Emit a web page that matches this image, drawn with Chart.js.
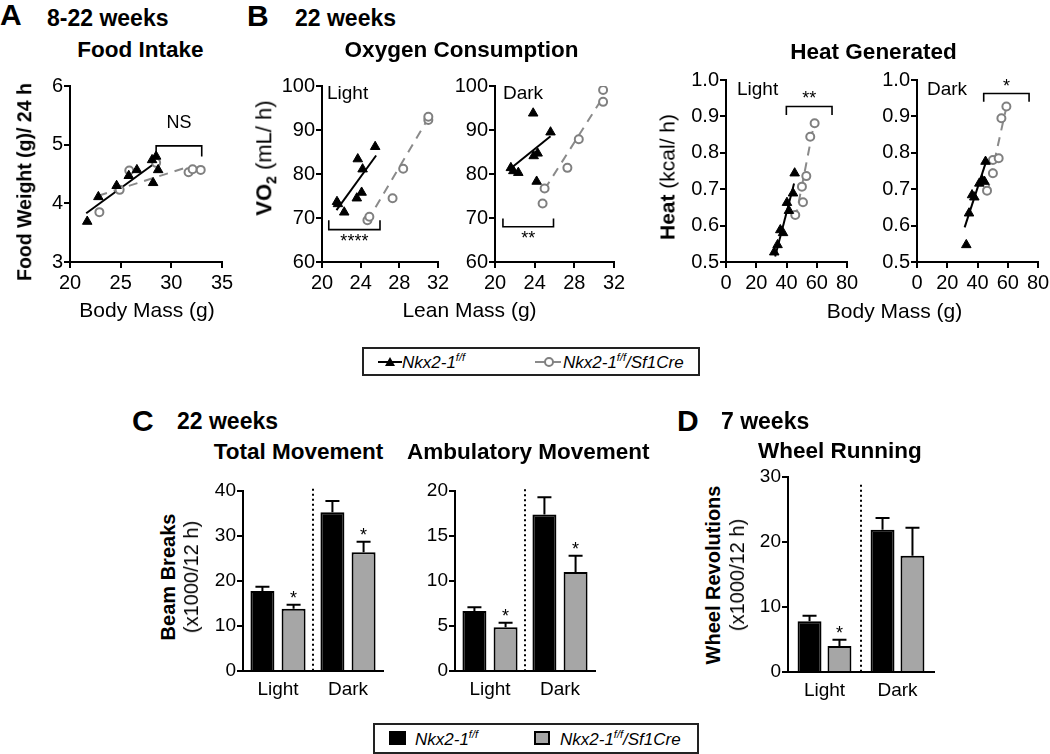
<!DOCTYPE html>
<html>
<head>
<meta charset="utf-8">
<script src="https://cdn.jsdelivr.net/npm/chart.js@4.4.1/dist/chart.umd.min.js"></script>
<style>
  html, body { margin: 0; padding: 0; background: #fff; }
  body { width: 1050px; height: 754px; position: relative; overflow: hidden; font-family: "Liberation Sans", Arial, sans-serif; color: #000; }
  canvas { position: absolute; }
  .txt { position: absolute; white-space: nowrap; line-height: 1; }
  .vtxt { position: absolute; white-space: nowrap; line-height: 1; transform: translate(-50%, -50%) rotate(-90deg); }
  .legend { position: absolute; border: 2px solid #222; box-sizing: border-box; }
  .legend .item { position: absolute; font-style: italic; font-size: 17px; line-height: 1; white-space: nowrap; }
  .legend sup { font-size: 11px; vertical-align: 0; position: relative; top: -7px; }
  .swatch { position: absolute; box-sizing: border-box; border: 2px solid #000; }
</style>
</head>
<body>
<canvas id="foodChart"></canvas>
<canvas id="oxLightChart"></canvas>
<canvas id="oxDarkChart"></canvas>
<canvas id="heatLightChart"></canvas>
<canvas id="heatDarkChart"></canvas>
<canvas id="totalChart"></canvas>
<canvas id="ambChart"></canvas>
<canvas id="wheelChart"></canvas>

<div class="legend" style="left:362px; top:347px; width:338px; height:29px;">
  <svg style="position:absolute; left:14px; top:6px;" width="26" height="14">
    <line x1="0" y1="7" x2="24" y2="7" stroke="#000" stroke-width="2"/>
    <polygon points="12,2 17,11 7,11" fill="#000"/>
  </svg>
  <div class="item" style="left:38px; top:5px;">Nkx2-1<sup>f/f</sup></div>
  <svg style="position:absolute; left:171px; top:6px;" width="28" height="14">
    <line x1="0" y1="7" x2="26" y2="7" stroke="#8a8a8a" stroke-width="2"/>
    <circle cx="14" cy="7" r="4" fill="#fff" stroke="#808080" stroke-width="2"/>
  </svg>
  <div class="item" style="left:199px; top:5px;">Nkx2-1<sup>f/f</sup>/Sf1Cre</div>
</div>

<div class="legend" style="left:373px; top:723px; width:326px; height:31px;">
  <div class="swatch" style="left:14px; top:6px; width:17px; height:14px; background:#000;"></div>
  <div class="item" style="left:40px; top:6px;">Nkx2-1<sup>f/f</sup></div>
  <div class="swatch" style="left:159px; top:6px; width:16px; height:14px; background:#a6a6a6;"></div>
  <div class="item" style="left:185px; top:6px;">Nkx2-1<sup>f/f</sup>/Sf1Cre</div>
</div>

<script>
// ---- Data ----

// A: food intake (g/24 h) vs body mass (g)
const foodWtMass = [21.7, 22.8, 24.6, 25.8, 26.6, 28.1, 28.5, 28.7, 28.2];
const foodWtIntake = [3.69, 4.11, 4.30, 4.47, 4.57, 4.74, 4.80, 4.57, 4.35];
const foodKoMass = [22.9, 24.9, 25.85, 28.5, 31.7, 32.1, 32.9];
const foodKoIntake = [3.85, 4.23, 4.56, 4.69, 4.53, 4.58, 4.57];
const foodWtFitX = [21.6, 28.5];
const foodWtFitY = [3.83, 4.70];
const foodKoFitX = [22.8, 31.8];
const foodKoFitY = [4.13, 4.63];
const foodBracket = [28.5, 33, 4.98, 4.80]; // x from, x to, bar y, tip y
const foodSig = 'NS';
const foodSigY = 5.28;

// B: VO2 (mL/h) vs lean mass (g), light phase
const oxLightWtMass = [21.55, 21.65, 22.3, 23.7, 23.6, 24.1, 24.2, 25.5];
const oxLightWtVo2 = [73.7, 73.2, 71.3, 83.4, 74.5, 75.8, 81.1, 86.2];
const oxLightKoMass = [24.7, 24.9, 27.3, 28.4, 31.0, 31.0];
const oxLightKoVo2 = [69.5, 70.3, 74.5, 81.2, 92.3, 93.0];
const oxLightWtFitX = [21.5, 25.6];
const oxLightWtFitY = [71.8, 84.2];
const oxLightKoFitX = [24.7, 31.0];
const oxLightKoFitY = [69.3, 92.7];
const oxLightBracket = [20.7, 26.0, 67.35, 69.5];
const oxLightSig = '****';
const oxLightSigY = 63.3;

// B: VO2 (mL/h) vs lean mass (g), dark phase
const oxDarkWtMass = [23.85, 25.6, 23.9, 24.3, 21.6, 21.85, 22.35, 24.2];
const oxDarkWtVo2 = [93.8, 89.5, 84.1, 84.7, 81.4, 80.7, 80.3, 78.3];
const oxDarkKoMass = [24.8, 25.0, 27.3, 28.45, 30.9, 30.9];
const oxDarkKoVo2 = [73.3, 76.7, 81.4, 87.9, 96.4, 99.1];
const oxDarkWtFitX = [21.6, 25.6];
const oxDarkWtFitY = [81.3, 88.6];
const oxDarkKoFitX = [25.0, 30.9];
const oxDarkKoFitY = [76.5, 97.5];
const oxDarkBracket = [20.8, 25.9, 68.0, 69.9];
const oxDarkSig = '**';
const oxDarkSigY = 64.0;

// B: heat (kcal/h) vs body mass (g), light phase
const heatLightWtMass = [31.9, 34.1, 35.9, 37.7, 40.3, 41.6, 44.3, 45.4];
const heatLightWtHeat = [0.527, 0.547, 0.588, 0.580, 0.663, 0.641, 0.689, 0.744];
const heatLightKoMass = [45.8, 50.9, 50.2, 53.1, 55.7, 58.6];
const heatLightKoHeat = [0.629, 0.664, 0.707, 0.736, 0.844, 0.881];
const heatLightWtFitX = [32.5, 45.0];
const heatLightWtFitY = [0.515, 0.716];
const heatLightKoFitX = [46.0, 58.0];
const heatLightKoFitY = [0.62, 0.875];
const heatLightBracket = [39.9, 70.1, 0.927, 0.904];
const heatLightSig = '**';
const heatLightSigY = 0.933;

// B: heat (kcal/h) vs body mass (g), dark phase
const heatDarkWtMass = [32.6, 34.4, 36.4, 37.9, 41.2, 43.0, 44.6, 45.3];
const heatDarkWtHeat = [0.547, 0.634, 0.684, 0.678, 0.716, 0.725, 0.721, 0.776];
const heatDarkKoMass = [46.3, 50.2, 50.2, 54.0, 55.8, 59.1];
const heatDarkKoHeat = [0.696, 0.744, 0.780, 0.785, 0.895, 0.927];
const heatDarkWtFitX = [31.5, 46.0];
const heatDarkWtFitY = [0.595, 0.78];
const heatDarkKoFitX = [46.5, 58.8];
const heatDarkKoFitY = [0.69, 0.92];
const heatDarkBracket = [44.1, 74.1, 0.963, 0.94];
const heatDarkSig = '*';
const heatDarkSigY = 0.967;

// C / D: bar charts (x1000 per 12 h), mean and SEM
const periods = ['Light', 'Dark'];
const totalWt = [17.8, 35.3];
const totalWtErr = [0.9, 2.5];
const totalKo = [13.85, 26.4];
const totalKoErr = [0.85, 2.3];
const totalKoSig = ['*', '*'];

const ambWt = [6.67, 17.4];
const ambWtErr = [0.4, 1.9];
const ambKo = [4.85, 11.0];
const ambKoErr = [0.52, 1.8];
const ambKoSig = ['*', '*'];

const wheelWt = [7.8, 21.9];
const wheelWtErr = [0.86, 1.8];
const wheelKo = [4.0, 17.9];
const wheelKoErr = [0.97, 4.3];
const wheelKoSig = ['*', ''];

// ---- Layout ----
const FONT = '"Liberation Sans", Arial, sans-serif';
const PAD_TOP = 20, PAD_RIGHT = 26, Y_W = 60, X_H = 46;

// plot areas in page pixels
const areas = {
    food: { left: 70, right: 222, top: 86, bottom: 262 },
    oxLight: { left: 322, right: 438, top: 86, bottom: 262 },
    oxDark: { left: 495, right: 614, top: 86, bottom: 262 },
    heatLight: { left: 726, right: 847, top: 80, bottom: 262 },
    heatDark: { left: 917, right: 1038, top: 80, bottom: 262 },
    total: { left: 243, right: 383, top: 491, bottom: 671 },
    amb: { left: 455, right: 595, top: 491, bottom: 671 },
    wheel: { left: 788, right: 934, top: 477, bottom: 672 }
};

function placeCanvas(id, area) {
    const c = document.getElementById(id);
    const w = area.right - area.left + Y_W + PAD_RIGHT;
    const h = area.bottom - area.top + PAD_TOP + X_H;
    c.width = w;
    c.height = h;
    c.style.width = w + 'px';
    c.style.height = h + 'px';
    c.style.left = (area.left - Y_W) + 'px';
    c.style.top = (area.top - PAD_TOP) + 'px';
    return c;
}

function points(xs, ys) {
    return xs.map((x, i) => ({ x: x, y: ys[i] }));
}

function axis(min, max, step, size, fmt, isX) {
    return {
        type: 'linear',
        min: min,
        max: max,
        afterFit: isX ? (s) => { s.height = X_H; } : (s) => { s.width = Y_W; },
        ticks: {
            stepSize: step,
            color: '#000',
            padding: isX ? 3 : 1,
            font: { family: FONT, size: size },
            callback: fmt || ((v) => v)
        },
        grid: { drawOnChartArea: false, drawTicks: true, tickLength: 6, color: '#000', lineWidth: 2 },
        border: { display: true, color: '#000', width: 2 }
    };
}

// significance bracket drawn in data units
const bracketPlugin = {
    id: 'bracket',
    afterDatasetsDraw(chart, args, opts) {
        if (!opts.range) return;
        const ctx = chart.ctx;
        const sx = chart.scales.x, sy = chart.scales.y;
        const [x1, x2, yb, yt] = opts.range;
        ctx.save();
        ctx.strokeStyle = '#000';
        ctx.lineWidth = 1.6;
        ctx.beginPath();
        ctx.moveTo(sx.getPixelForValue(x1), sy.getPixelForValue(yt));
        ctx.lineTo(sx.getPixelForValue(x1), sy.getPixelForValue(yb));
        ctx.lineTo(sx.getPixelForValue(x2), sy.getPixelForValue(yb));
        ctx.lineTo(sx.getPixelForValue(x2), sy.getPixelForValue(yt));
        ctx.stroke();
        ctx.fillStyle = '#000';
        ctx.font = '18px ' + FONT;
        ctx.textAlign = 'center';
        ctx.textBaseline = 'alphabetic';
        ctx.fillText(opts.label, sx.getPixelForValue((x1 + x2) / 2), sy.getPixelForValue(opts.labelY));
        ctx.restore();
    }
};

function scatterChart(id, area, d) {
    const canvas = placeCanvas(id, area);
    return new Chart(canvas.getContext('2d'), {
        type: 'scatter',
        data: {
            datasets: [
                {
                    data: points(d.wtX, d.wtY),
                    pointStyle: 'triangle',
                    pointRadius: 5.5,
                    backgroundColor: '#000',
                    borderColor: '#000',
                    borderWidth: 1
                },
                {
                    data: points(d.koX, d.koY),
                    pointStyle: 'circle',
                    pointRadius: 4,
                    backgroundColor: '#fff',
                    borderColor: '#808080',
                    borderWidth: 2
                },
                {
                    data: points(d.wtFitX, d.wtFitY),
                    showLine: true,
                    pointRadius: 0,
                    borderColor: '#000',
                    borderWidth: 2
                },
                {
                    data: points(d.koFitX, d.koFitY),
                    showLine: true,
                    pointRadius: 0,
                    borderColor: '#8a8a8a',
                    borderWidth: 2,
                    borderDash: [9, 7]
                }
            ]
        },
        options: {
            responsive: false,
            animation: false,
            devicePixelRatio: 1,
            layout: { padding: { top: PAD_TOP, right: PAD_RIGHT, left: 0, bottom: 0 } },
            scales: {
                x: axis(d.xr[0], d.xr[1], d.xr[2], 20, null, true),
                y: axis(d.yr[0], d.yr[1], d.yr[2], 20, d.yfmt, false)
            },
            plugins: {
                legend: { display: false },
                tooltip: { enabled: false },
                bracket: { range: d.bracket, label: d.sig, labelY: d.sigY }
            }
        },
        plugins: [bracketPlugin]
    });
}

// error bars, asterisks and the dotted light/dark divider
const barExtras = {
    id: 'barExtras',
    afterDatasetsDraw(chart, args, opts) {
        const ctx = chart.ctx;
        const sx = chart.scales.x, sy = chart.scales.y;
        ctx.save();
        ctx.strokeStyle = '#000';

        const mid = (sx.getPixelForValue(0) + sx.getPixelForValue(1)) / 2;
        ctx.lineWidth = 2;
        ctx.setLineDash([2, 3]);
        ctx.beginPath();
        ctx.moveTo(mid, sy.getPixelForValue(opts.dividerTop));
        ctx.lineTo(mid, chart.chartArea.bottom);
        ctx.stroke();
        ctx.setLineDash([]);

        chart.data.datasets.forEach((ds, di) => {
            const meta = chart.getDatasetMeta(di);
            meta.data.forEach((bar, i) => {
                const top = sy.getPixelForValue(ds.data[i] + opts.errors[di][i]);
                ctx.beginPath();
                ctx.moveTo(bar.x, bar.y);
                ctx.lineTo(bar.x, top);
                ctx.moveTo(bar.x - 7, top);
                ctx.lineTo(bar.x + 7, top);
                ctx.stroke();
                const mark = opts.marks[di] && opts.marks[di][i];
                if (mark) {
                    ctx.fillStyle = '#000';
                    ctx.font = '18px ' + FONT;
                    ctx.textAlign = 'center';
                    ctx.fillText(mark, bar.x, top - 1);
                }
            });
        });
        ctx.restore();
    }
};

function barChart(id, area, d) {
    const canvas = placeCanvas(id, area);
    return new Chart(canvas.getContext('2d'), {
        type: 'bar',
        data: {
            labels: periods,
            datasets: [
                {
                    data: d.wt,
                    backgroundColor: '#000',
                    borderColor: '#000',
                    borderWidth: 2,
                    borderSkipped: 'start',
                    categoryPercentage: d.cat,
                    barPercentage: d.bar
                },
                {
                    data: d.ko,
                    backgroundColor: '#a6a6a6',
                    borderColor: '#000',
                    borderWidth: 2,
                    borderSkipped: 'start',
                    categoryPercentage: d.cat,
                    barPercentage: d.bar
                }
            ]
        },
        options: {
            responsive: false,
            animation: false,
            devicePixelRatio: 1,
            layout: { padding: { top: PAD_TOP, right: PAD_RIGHT, left: 0, bottom: 0 } },
            scales: {
                x: {
                    afterFit: (s) => { s.height = X_H; },
                    ticks: { color: '#000', padding: 7, font: { family: FONT, size: 19 } },
                    grid: { display: false, drawTicks: false },
                    border: { display: true, color: '#000', width: 2 }
                },
                y: axis(0, d.ymax, d.step, 19, null, false)
            },
            plugins: {
                legend: { display: false },
                tooltip: { enabled: false },
                barExtras: { errors: [d.wtErr, d.koErr], marks: [[], d.sig], dividerTop: d.dividerTop }
            }
        },
        plugins: [barExtras]
    });
}

// ---- Text ----
function addText(html, x, base, size, bold, center) {
    const el = document.createElement('div');
    el.className = 'txt';
    el.innerHTML = html;
    el.style.fontSize = size + 'px';
    el.style.top = (base - 0.847 * size) + 'px';
    el.style.left = x + 'px';
    if (bold) el.style.fontWeight = 'bold';
    if (center) el.style.transform = 'translateX(-50%)';
    document.body.appendChild(el);
}

function addVText(html, cx, cy, size, bold) {
    const el = document.createElement('div');
    el.className = 'vtxt';
    el.innerHTML = html;
    el.style.fontSize = size + 'px';
    el.style.left = cx + 'px';
    el.style.top = cy + 'px';
    if (bold) el.style.fontWeight = 'bold';
    document.body.appendChild(el);
}

function drawTexts() {
    // panel A
    addText('A', 0, 25, 30, true);
    addText('8-22 weeks', 47, 26, 23, true);
    addText('Food Intake', 140.5, 58, 22.5, true, true);
    addText('Body Mass (g)', 147, 317, 21, false, true);
    addVText('Food Weight (g)/ 24 h', 25, 182, 19.5, true);

    // panel B
    addText('B', 247, 26, 30, true);
    addText('22 weeks', 295, 26, 23, true);
    addText('Oxygen Consumption', 461.5, 58, 22.5, true, true);
    addText('Heat Generated', 873.5, 60, 22.5, true, true);
    addText('Light', 327, 99, 19);
    addText('Dark', 503, 99, 19);
    addText('Light', 737, 95, 19);
    addText('Dark', 927, 95, 19);
    addText('Lean Mass (g)', 469.5, 317, 21, false, true);
    addText('Body Mass (g)', 894.5, 318, 21, false, true);
    addVText('<b>VO<sub style="font-size:14px">2</sub></b> (mL/ h)', 266, 158, 22);
    addVText('<b>Heat</b> (kcal/ h)', 667, 177, 21);

    // panel C
    addText('C', 132, 431, 30, true);
    addText('22 weeks', 177, 429, 23, true);
    addText('Total Movement', 298.5, 460.5, 22.5, true, true);
    addText('Ambulatory Movement', 407, 460.5, 22.5, true);
    addVText('Beam Breaks', 168, 577, 20, true);
    addVText('(x1000/12 h)', 191, 577, 20);

    // panel D
    addText('D', 677, 431, 30, true);
    addText('7 weeks', 721, 429, 23, true);
    addText('Wheel Running', 758, 459.5, 22.5, true);
    addVText('Wheel Revolutions', 713, 575, 20, true);
    addVText('(x1000/12 h)', 737, 575, 20);
}

function init() {
    drawTexts();

    const fmt1 = (v) => v.toFixed(1);

    scatterChart('foodChart', areas.food, {
        wtX: foodWtMass, wtY: foodWtIntake, koX: foodKoMass, koY: foodKoIntake,
        wtFitX: foodWtFitX, wtFitY: foodWtFitY, koFitX: foodKoFitX, koFitY: foodKoFitY,
        xr: [20, 35, 5], yr: [3, 6, 1],
        bracket: foodBracket, sig: foodSig, sigY: foodSigY
    });
    scatterChart('oxLightChart', areas.oxLight, {
        wtX: oxLightWtMass, wtY: oxLightWtVo2, koX: oxLightKoMass, koY: oxLightKoVo2,
        wtFitX: oxLightWtFitX, wtFitY: oxLightWtFitY, koFitX: oxLightKoFitX, koFitY: oxLightKoFitY,
        xr: [20, 32, 4], yr: [60, 100, 10],
        bracket: oxLightBracket, sig: oxLightSig, sigY: oxLightSigY
    });
    scatterChart('oxDarkChart', areas.oxDark, {
        wtX: oxDarkWtMass, wtY: oxDarkWtVo2, koX: oxDarkKoMass, koY: oxDarkKoVo2,
        wtFitX: oxDarkWtFitX, wtFitY: oxDarkWtFitY, koFitX: oxDarkKoFitX, koFitY: oxDarkKoFitY,
        xr: [20, 32, 4], yr: [60, 100, 10],
        bracket: oxDarkBracket, sig: oxDarkSig, sigY: oxDarkSigY
    });
    scatterChart('heatLightChart', areas.heatLight, {
        wtX: heatLightWtMass, wtY: heatLightWtHeat, koX: heatLightKoMass, koY: heatLightKoHeat,
        wtFitX: heatLightWtFitX, wtFitY: heatLightWtFitY, koFitX: heatLightKoFitX, koFitY: heatLightKoFitY,
        xr: [0, 80, 20], yr: [0.5, 1.0, 0.1], yfmt: fmt1,
        bracket: heatLightBracket, sig: heatLightSig, sigY: heatLightSigY
    });
    scatterChart('heatDarkChart', areas.heatDark, {
        wtX: heatDarkWtMass, wtY: heatDarkWtHeat, koX: heatDarkKoMass, koY: heatDarkKoHeat,
        wtFitX: heatDarkWtFitX, wtFitY: heatDarkWtFitY, koFitX: heatDarkKoFitX, koFitY: heatDarkKoFitY,
        xr: [0, 80, 20], yr: [0.5, 1.0, 0.1], yfmt: fmt1,
        bracket: heatDarkBracket, sig: heatDarkSig, sigY: heatDarkSigY
    });

    barChart('totalChart', areas.total, {
        wt: totalWt, wtErr: totalWtErr, ko: totalKo, koErr: totalKoErr, sig: totalKoSig,
        ymax: 40, step: 10, dividerTop: 40.5, cat: 0.89, bar: 0.77
    });
    barChart('ambChart', areas.amb, {
        wt: ambWt, wtErr: ambWtErr, ko: ambKo, koErr: ambKoErr, sig: ambKoSig,
        ymax: 20, step: 5, dividerTop: 20.2, cat: 0.89, bar: 0.77
    });
    barChart('wheelChart', areas.wheel, {
        wt: wheelWt, wtErr: wheelWtErr, ko: wheelKo, koErr: wheelKoErr, sig: wheelKoSig,
        ymax: 30, step: 10, dividerTop: 28.8, cat: 0.82, bar: 0.8
    });
}

document.addEventListener('DOMContentLoaded', init);
</script>
</body>
</html>
